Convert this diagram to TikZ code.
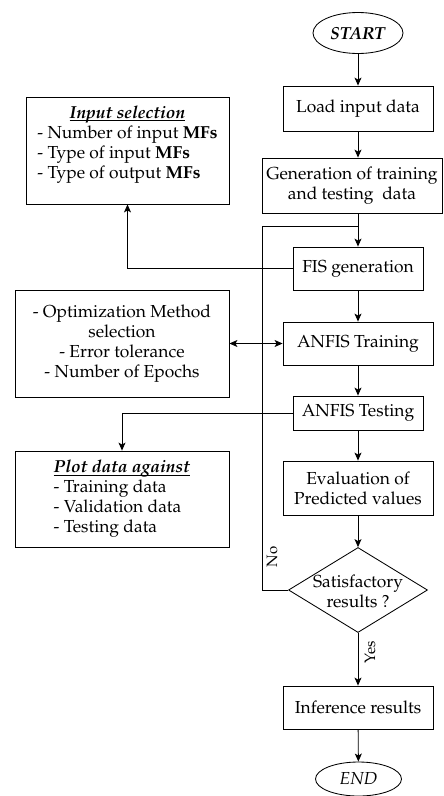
\documentclass[tikz,border=0pt]{standalone}
\usepackage[T1]{fontenc}
\usepackage{mathpazo}
\usetikzlibrary{shapes.geometric,arrows.meta}
\newcommand{\ulin}[1]{\setbox0\hbox{#1}\rlap{\rule[-2.8pt]{\wd0}{0.8pt}}\box0}

\begin{document}
\begin{tikzpicture}[x=1pt,y=-1pt,
  every node/.style={font=\fontsize{17.4}{20}\selectfont},
  proc/.style={draw, line width=0.85pt, rectangle, align=center, inner sep=0pt},
  term/.style={draw, ellipse, line width=0.85pt, inner sep=0pt},
  conn/.style={line width=0.85pt, -{Stealth[length=8pt,width=7pt,inset=2pt]}},
  dconn/.style={line width=0.85pt, {Stealth[length=8pt,width=7pt,inset=2pt]}-{Stealth[length=8pt,width=7pt,inset=2pt]}},
  plain/.style={line width=0.85pt},
  lbl/.style={font=\fontsize{15}{18}\selectfont, rotate=90, inner sep=0pt},
  txt/.style={inner sep=0pt, align=center}]
\useasboundingbox (0,0) rectangle (444,796);

% main column
\node[term, minimum width=90pt, minimum height=41pt] (start) at (358,33) {\textbf{\textit{START}}};
\node[proc, minimum width=150pt, minimum height=45pt] (load) at (358,108.5) {Load input data};
\node[proc, minimum width=180pt, minimum height=55pt] (gen) at (352,185.5) {Generation of training\\and testing~ data};
\node[proc, minimum width=130pt, minimum height=43pt] (fis) at (358,268.5) {FIS generation};
\node[proc, minimum width=150pt, minimum height=43pt] (train) at (358,343.5) {ANFIS Training};
\node[proc, minimum width=130pt, minimum height=34pt] (test) at (358,413) {ANFIS Testing};
\node[proc, minimum width=150pt, minimum height=54pt] (eval) at (358,488) {Evaluation of\\Predicted values};
\node[draw, diamond, line width=0.85pt, minimum width=139pt, minimum height=85pt, inner sep=0pt] (dec) at (358,590) {};
\node[txt] (dectext) at (358,591) {Satisfactory\\results ?};
\node[proc, minimum width=150pt, minimum height=43pt] (inf) at (358,707.5) {Inference results};
\node[term, minimum width=86pt, minimum height=34pt] (end) at (358.5,779) {\textit{END}};

% side boxes
\node[proc, minimum width=203pt, minimum height=107pt] (inp) at (127.5,150.5) {};
\node[inner sep=0pt, anchor=north] (inptext) at (127.5,104) {\begin{tabular}{@{}l@{}}\multicolumn{1}{@{}c@{}}{\ulin{\textbf{\textit{Input selection}}}}\\- Number of input \textbf{MFs}\\- Type of input \textbf{MFs}\\- Type of output \textbf{MFs}\end{tabular}};
\node[proc, minimum width=214pt, minimum height=107pt] (opt) at (122,343.5) {- Optimization Method\\selection\\- Error tolerance\\- Number of Epochs};
\node[proc, minimum width=214pt, minimum height=96pt, align=left] (plot) at (122,499) {\ulin{\textbf{\textit{Plot data against}}}\\- Training data\\- Validation data\\- Testing data};

% connectors
\draw[conn] (start) -- (load);
\draw[conn] (load.south) -- (load.south |- gen.north);
\draw[conn] (gen.south -| fis.north) -- (fis.north);
\draw[conn] (fis) -- (train);
\draw[conn] (train) -- (test);
\draw[conn] (test) -- (eval);
\draw[conn] (eval) -- (dec.north);
\draw[conn] (dec.south) -- (inf);
\draw[conn] (inf) -- (end);

\coordinate (loopB) at (262,590);
\coordinate (loopT) at (262,226);
\draw[plain] (dec.west) -- (loopB) -- (loopT) -- (loopT -| fis.north);

\draw[conn] (fis.west) -- (fis.west -| inp.south) -- (inp.south);
\draw[dconn] (opt.east) -- (train.west);
\draw[conn] (test.west) -- (test.west -| plot.north) -- (plot.north);

\node[lbl] (no) at (272,557) {No};
\node[lbl] (yes) at (370,652) {Yes};
\end{tikzpicture}
\end{document}
